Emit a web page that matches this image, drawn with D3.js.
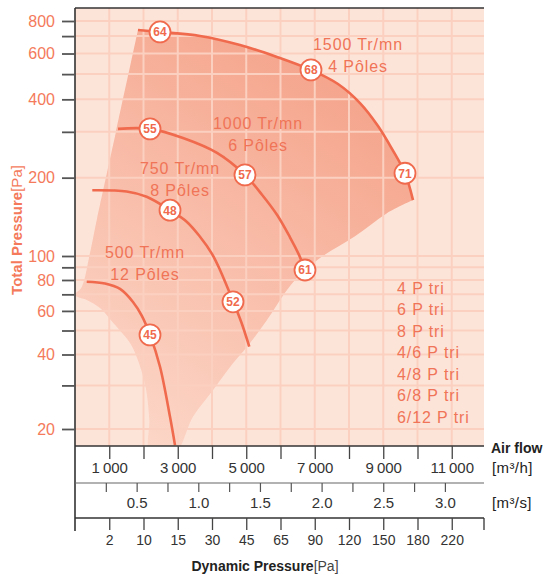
<!DOCTYPE html>
<html><head><meta charset="utf-8">
<script src="https://cdn.jsdelivr.net/npm/d3@7"></script>
<style>
html,body{margin:0;padding:0;background:#fff;}
svg{display:block;font-family:"Liberation Sans",Arial,Helvetica,sans-serif;}
</style></head><body>
<svg id="chart" width="546" height="576"></svg>
<script>
// ---------- DATA (air flow m3/h, total pressure Pa) ----------
const curve1500 = [[1839,739],[2482,726],[3650,701],[4818,647],[5898,582],[6890,519],[7679,458],[8321,387],[8847,316],[9255,258],[9635,208],[9869,164]];
const curve1000 = [[1255,308],[2190,308],[3153,284],[4146,249],[4963,205],[5460,172],[5898,144],[6277,118],[6540,101],[6715,87.8]];
const curve750  = [[505,179],[1509,177],[2093,169],[2774,150],[3261,135.5],[3650,118.6],[3991,102.4],[4234,87.8],[4622,65.3],[4867,53.5],[5089,43]];
const curve500  = [[342,78.7],[876,77.4],[1314,73.6],[1693,65.2],[1956,57.2],[2190,48],[2482,35.7],[2774,22.4],[2920,17.2]];

const envelopeRight = [[9869,164],[9109,146],[8175,119],[7153,98.1],[6569,83.8],[6190,72.9],[5606,55.1],[5022,42.9],[4613,36.9],[4029,28.7],[3445,22.4],[2920,16]];
const envelopeBottomLeft = [[2190,16],[2169,21.7],[2093,27.9],[1994,32.4],[1801,39.1],[1606,44.5],[1118,53.6],[730,61.6],[342,66.4],[0,69.6]];
const envelopeLeft = [[196,75],[438,102.7],[634,137.5],[1188,297],[1839,739]];

const efficiencyQ = [2482,6890,9635,2190,4963,6715,2774,4613,2190];
const efficiencyP = [726,519,208,308,205,87.8,150,65.3,48];
const efficiencyText = ["64","68","71","55","57","61","48","52","45"];

const speedQ = [8263,5343,3066,2044];
const speedP = [653,324.5,218,103.6];
const speedLine1 = ["1500 Tr/mn","1000 Tr/mn","750 Tr/mn","500 Tr/mn"];
const speedLine2 = ["4 Pôles","6 Pôles","8 Pôles","12 Pôles"];

const legendItems = ["4 P tri","6 P tri","8 P tri","4/6 P tri","4/8 P tri","6/8 P tri","6/12 P tri"];

const yTicks = [20,30,40,50,60,70,80,90,100,200,300,400,500,600,700,800];
const yTickLabels = [20,40,60,80,100,200,400,600,800];
const flowTicks = [1000,2000,3000,4000,5000,6000,7000,8000,9000,10000,11000];
const flowTickLabels = [1000,3000,5000,7000,9000,11000];
const flowSecTicks = [0.25,0.5,0.75,1.0,1.25,1.5,1.75,2.0,2.25,2.5,2.75,3.0];
const flowSecLabels = [0.5,1.0,1.5,2.0,2.5,3.0];
const dynPressureLabels = ["2","10","15","30","45","65","90","120","150","180","220"];

// ---------- LAYOUT ----------
const L = 75, R = 484, T = 8, B = 446;
const ORANGE = "#f06a4d", TXT = "#f07457", DARK = "#333";

const svg = d3.select("#chart");
const x = d3.scaleLinear().domain([0,12000]).range([L,486]);
const xs = d3.scaleLinear().domain([0,12000/3600]).range([L,486]);
const y = d3.scaleLog().domain([20,100,800]).range([429,256,21]);

const defs = svg.append("defs");
defs.append("clipPath").attr("id","plotClip").append("rect")
  .attr("x",L).attr("y",T).attr("width",R-L).attr("height",B-T);
const grad = defs.append("linearGradient").attr("id","envGrad")
  .attr("gradientUnits","userSpaceOnUse").attr("x1",420).attr("y1",60).attr("x2",150).attr("y2",446);
grad.append("stop").attr("offset",0).attr("stop-color","#f49d83");
grad.append("stop").attr("offset",1).attr("stop-color","#fcd6c7");

const plot = svg.append("g").attr("clip-path","url(#plotClip)");
plot.append("rect").attr("x",L).attr("y",T).attr("width",R-L).attr("height",B-T).attr("fill","#fde4d9");

const smooth = d3.line().x(d=>x(d[0])).y(d=>y(d[1])).curve(d3.curveCatmullRom.alpha(0.5));
const envPath = smooth(curve1500) + smooth([...envelopeRight, ...envelopeBottomLeft, ...envelopeLeft]).replace(/^M/,"L") + "Z";
plot.append("path").attr("d",envPath).attr("fill","url(#envGrad)");

// grid
plot.selectAll(".gv").data(flowTicks).join("line")
  .attr("x1",d=>x(d)).attr("x2",d=>x(d)).attr("y1",T).attr("y2",B)
  .attr("stroke","#fbd0c0").attr("stroke-width",2);
plot.selectAll(".gh").data(yTicks).join("line")
  .attr("x1",L).attr("x2",R).attr("y1",d=>y(d)).attr("y2",d=>y(d))
  .attr("stroke","#fbd0c0").attr("stroke-width",2);

// curves
[curve1500,curve1000,curve750,curve500].forEach(c=>{
  plot.append("path").attr("d",smooth(c)).attr("fill","none")
    .attr("stroke",ORANGE).attr("stroke-width",2.6).attr("stroke-linecap","butt");
});

// efficiency markers
efficiencyText.forEach((t,i)=>{
  const g = svg.append("g").attr("transform",`translate(${x(efficiencyQ[i])},${y(efficiencyP[i])})`);
  g.append("circle").attr("r",10.5).attr("fill","#fff").attr("stroke",ORANGE).attr("stroke-width",1.8);
  g.append("text").attr("text-anchor","middle").attr("dy","0.36em")
    .attr("font-size",12).attr("font-weight","bold").attr("fill",ORANGE).text(t);
});

// speed labels
speedLine1.forEach((t,i)=>{
  const tx = svg.append("text").attr("text-anchor","middle").attr("font-size",16)
    .attr("letter-spacing","0.9").attr("fill",TXT)
    .attr("transform",`translate(${x(speedQ[i])},${y(speedP[i])})`);
  tx.append("tspan").attr("x",0).attr("dy","0.36em").text(t);
  tx.append("tspan").attr("x",0).attr("dy",22).text(speedLine2[i]);
});

// legend
svg.append("g").selectAll("text").data(legendItems).join("text")
  .attr("x",397).attr("y",(d,i)=>288+i*21.5).attr("dy","0.36em")
  .attr("font-size",16).attr("letter-spacing","0.9").attr("fill",TXT).text(d=>d);

// frame lines
svg.append("line").attr("x1",L).attr("x2",R).attr("y1",T).attr("y2",T).attr("stroke",DARK).attr("stroke-width",1.6);
svg.append("line").attr("x1",L).attr("x2",L).attr("y1",T).attr("y2",531).attr("stroke",DARK).attr("stroke-width",1.6);
svg.append("line").attr("x1",L).attr("x2",R).attr("y1",B).attr("y2",B).attr("stroke",DARK).attr("stroke-width",1.6);
svg.append("line").attr("x1",L).attr("x2",R).attr("y1",483).attr("y2",483).attr("stroke","#666").attr("stroke-width",1.2);
svg.append("line").attr("x1",L).attr("x2",R).attr("y1",518).attr("y2",518).attr("stroke",DARK).attr("stroke-width",1.5);
svg.append("line").attr("x1",R).attr("x2",R).attr("y1",518).attr("y2",530).attr("stroke",DARK).attr("stroke-width",1.3);

// y axis
const fmtFlow = d => d3.format(",")(d).replace(",", "\u2009");
const ya = svg.append("g").attr("transform",`translate(${L},0)`)
  .call(d3.axisLeft(y).tickValues(yTicks).tickSize(13).tickPadding(7)
    .tickFormat(d => yTickLabels.includes(d) ? d : ""));
ya.select(".domain").remove();
ya.selectAll(".tick line").attr("stroke","#555").attr("stroke-width",1.8);
ya.selectAll("text").attr("font-size",16).attr("fill","#f47a5b").attr("font-family",null);

// axis 1 (m3/h)
const a1 = svg.append("g").attr("transform",`translate(0,${B})`)
  .call(d3.axisBottom(x).tickValues(flowTicks).tickSize(13).tickPadding(3.5)
    .tickFormat(d => flowTickLabels.includes(d) ? fmtFlow(d) : ""));
a1.select(".domain").remove();
a1.selectAll(".tick line").attr("stroke","#444").attr("stroke-width",1.3);
a1.selectAll("text").attr("font-size",15).attr("fill",DARK).attr("font-family",null);

// axis 2 (m3/s)
const a2 = svg.append("g").attr("transform","translate(0,483)")
  .call(d3.axisBottom(xs).tickValues(flowSecTicks).tickSize(9).tickPadding(5.5)
    .tickFormat(d => flowSecLabels.includes(d) ? d3.format(".1f")(d) : ""));
a2.select(".domain").remove();
a2.selectAll(".tick line").attr("stroke","#555").attr("stroke-width",1.2);
a2.selectAll("text").attr("font-size",15).attr("fill",DARK).attr("font-family",null);

// axis 3 (dynamic pressure)
const a3 = svg.append("g").attr("transform","translate(0,518)")
  .call(d3.axisBottom(x).tickValues(flowTicks).tickSize(12).tickPadding(5)
    .tickFormat((d,i) => dynPressureLabels[i]));
a3.select(".domain").remove();
a3.selectAll(".tick line").attr("stroke","#444").attr("stroke-width",1.3);
a3.selectAll("text").attr("font-size",14).attr("fill",DARK).attr("font-family",null);

// side labels
svg.append("text").attr("x",491).attr("y",448).attr("dy","0.36em").attr("font-size",14)
  .attr("font-weight","bold").attr("fill","#222").text("Air flow");
svg.append("text").attr("x",492).attr("y",468).attr("dy","0.36em").attr("font-size",15)
  .attr("letter-spacing","0.4").attr("fill","#222").text("[m³/h]");
svg.append("text").attr("x",492).attr("y",503).attr("dy","0.36em").attr("font-size",15)
  .attr("letter-spacing","0.4").attr("fill","#222").text("[m³/s]");

// axis titles
const xt = svg.append("text").attr("x",265).attr("y",566).attr("dy","0.36em").attr("text-anchor","middle")
  .attr("font-size",14).attr("fill","#222");
xt.append("tspan").attr("font-weight","bold").text("Dynamic Pressure");
xt.append("tspan").attr("fill","#444").text("[Pa]");

const yt = svg.append("text").attr("transform","translate(17,230) rotate(-90)").attr("dy","0.36em")
  .attr("text-anchor","middle").attr("font-size",15).attr("fill","#f47a5b");
yt.append("tspan").attr("font-weight","bold").text("Total Pressure");
yt.append("tspan").text("[Pa]");
</script>
</body></html>
